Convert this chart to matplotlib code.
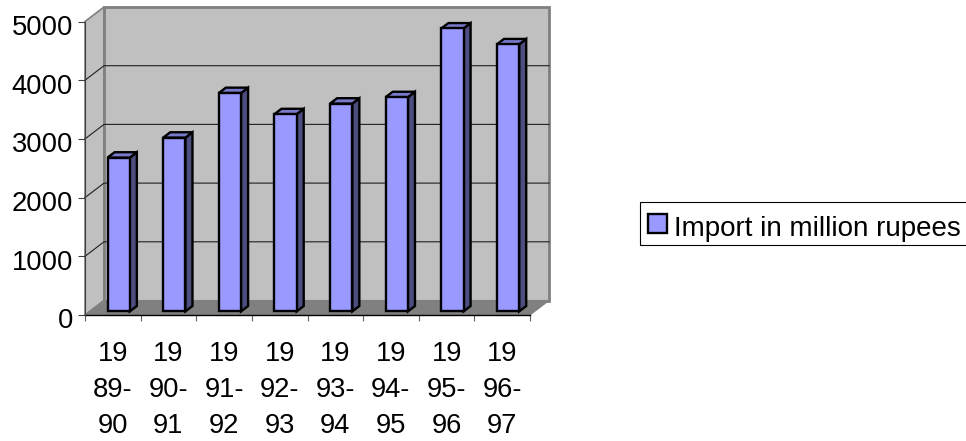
import matplotlib
matplotlib.use('Agg')
from matplotlib import pyplot as plt
from matplotlib.patches import Patch, Polygon
from matplotlib.transforms import ScaledTranslation

plt.rcParams['font.family'] = ['Liberation Sans', 'DejaVu Sans']

categories = ['19\n89-\n90', '19\n90-\n91', '19\n91-\n92', '19\n92-\n93',
              '19\n93-\n94', '19\n94-\n95', '19\n95-\n96', '19\n96-\n97']
imports = [2620, 2960, 3720, 3360, 3540, 3650, 4820, 4550]
y_ticks = [0, 1000, 2000, 3000, 4000, 5000]

WALL = '#c0c0c0'
FLOOR = '#808080'
FRONT = '#9999ff'
SIDE = '#4d4d80'
TOP = '#7a7acc'

# oblique projection: how far a unit of depth moves a point, in data units
DEPTH_X = 0.342
DEPTH_Y = 247


def proj(x, y, z=0.0):
    return (x + z * DEPTH_X, y + z * DEPTH_Y)


def poly(ax, pts, **kw):
    ax.add_patch(Polygon(pts, closed=True, clip_on=False, **kw))


def draw_box(ax, i, value, width=0.4, z0=0.25, z1=0.62):
    left = i + 0.5 - width / 2 + 0.02
    right = left + width
    poly(ax, [proj(right, 0, z0), proj(right, 0, z1), proj(right, value, z1), proj(right, value, z0)],
         facecolor=SIDE, edgecolor='black', linewidth=1.7, zorder=3)
    poly(ax, [proj(left, value, z0), proj(right, value, z0), proj(right, value, z1), proj(left, value, z1)],
         facecolor=TOP, edgecolor='black', linewidth=1.7, zorder=3)
    poly(ax, [proj(left, 0, z0), proj(right, 0, z0), proj(right, value, z0), proj(left, value, z0)],
         facecolor=FRONT, edgecolor='black', linewidth=1.7, zorder=4)


fig = plt.figure(figsize=(9.66, 4.41), dpi=100)
ax = fig.add_axes([85 / 966, (441 - 315) / 441, 445 / 966, 293.5 / 441])
n = len(categories)
ax.set_xlim(0, n)
ax.set_ylim(0, 5000)
ax.patch.set_visible(False)

# walls and floor
poly(ax, [proj(0, 0), proj(0, 0, 1), proj(0, 5000, 1), proj(0, 5000)],
     facecolor=WALL, edgecolor=FLOOR, linewidth=1.2, zorder=1)
poly(ax, [proj(0, 0, 1), proj(n, 0, 1), proj(n, 5000, 1), proj(0, 5000, 1)],
     facecolor=WALL, edgecolor=FLOOR, linewidth=2, zorder=1)
poly(ax, [proj(0, 0), proj(n, 0), proj(n, 0, 1), proj(0, 0, 1)],
     facecolor=FLOOR, edgecolor=FLOOR, linewidth=0.8, zorder=1)

# gridlines run along the side wall and across the back wall
for v in y_ticks[1:-1]:
    xs, ys = zip(proj(0, v), proj(0, v, 1), proj(n, v, 1))
    ax.plot(xs, ys, color='#202020', linewidth=0.8, clip_on=False, zorder=2)

for i, v in enumerate(imports):
    draw_box(ax, i, v)

for side in ('top', 'right'):
    ax.spines[side].set_visible(False)
ax.spines['left'].set_color('#404040')
ax.spines['left'].set_linewidth(0.8)
ax.spines['bottom'].set_linewidth(1.0)
ax.spines['left'].set_zorder(5)

ax.set_yticks(y_ticks)
ax.tick_params(axis='y', length=5, width=0.8, color='#404040', pad=3.7, labelsize=19.7)
# numbers sit a little below their ticks
down = ScaledTranslation(0, -3.5 / 100, fig.dpi_scale_trans)
for t in ax.get_yticklabels():
    t.set_transform(t.get_transform() + down)

ax.set_xticks(range(n + 1))
ax.set_xticklabels([])
ax.tick_params(axis='x', which='major', length=4.5, width=0.8, color='#606060')
ax.set_xticks([i + 0.5 for i in range(n)], minor=True)
ax.set_xticklabels(categories, minor=True, fontsize=19.7, linespacing=1.5)
ax.tick_params(axis='x', which='minor', length=0, pad=19)

leg = fig.legend(handles=[Patch(facecolor=FRONT, edgecolor='black', linewidth=1.7,
                                label='Import in million rupees')],
                 loc='center left', bbox_to_anchor=(640 / 966, (441 - 223.5) / 441),
                 fontsize=20.0, frameon=True, fancybox=False, edgecolor='black',
                 framealpha=1, borderaxespad=0, borderpad=0.3,
                 handlelength=0.68, handleheight=0.68, handletextpad=0.25)
leg.get_frame().set_linewidth(0.8)
leg.get_texts()[0].set_position((0, -6))
leg.get_patches()[0].set_y(-1.5)

fig.savefig('out.png', dpi=100)
